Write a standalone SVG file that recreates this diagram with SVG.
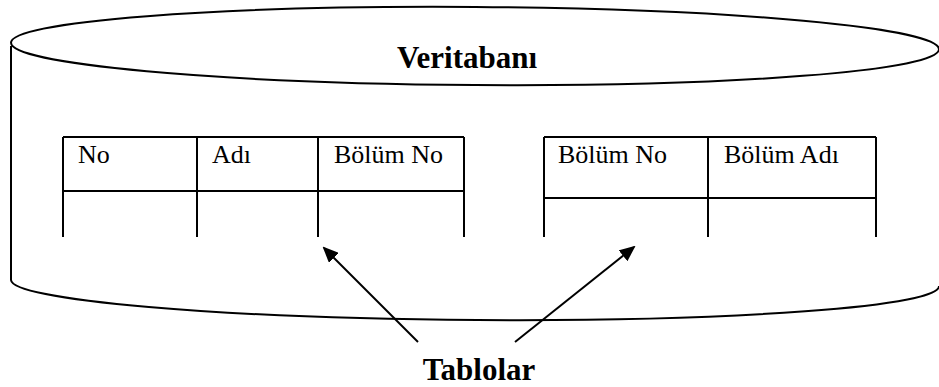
<svg xmlns="http://www.w3.org/2000/svg" width="939" height="387" viewBox="0 0 939 387">
  <style>
    .stroke { fill: none; stroke: #000; stroke-width: 2; }
    .cell { font-family: "Liberation Serif", "Times New Roman", serif; font-size: 26px; fill: #000; }
    .title { font-family: "Liberation Serif", "Times New Roman", serif; font-size: 31px; font-weight: bold; fill: #000; }
  </style>
  <defs>
    <marker id="head" markerWidth="8" markerHeight="7" refX="7" refY="3.5" orient="auto" markerUnits="strokeWidth">
      <path d="M0,0 L8,3.5 L0,7 Z" fill="#000"/>
    </marker>
  </defs>
  <rect width="939" height="387" fill="#fff"/>

  <!-- database cylinder -->
  <g id="database">
    <path class="stroke" d="M11,46 L11,280 A464,37 0.4 0 0 939,286"/>
    <ellipse class="stroke" cx="475" cy="46" rx="464" ry="39" transform="rotate(0.4 475 46)"/>
    <text class="title" x="467" y="68" text-anchor="middle">Veritabanı</text>
  </g>

  <!-- first table -->
  <g id="table-students">
    <path class="stroke" d="M63,137 H464 M63,191 H464 M63,137 V237 M197,137 V237 M318,137 V237 M464,137 V237"/>
    <text class="cell" x="78" y="163">No</text>
    <text class="cell" x="212" y="163">Adı</text>
    <text class="cell" x="334" y="163">Bölüm No</text>
  </g>

  <!-- second table -->
  <g id="table-departments">
    <path class="stroke" d="M544,137 H876 M544,198 H876 M544,137 V237 M708,137 V237 M876,137 V237"/>
    <text class="cell" x="558" y="163">Bölüm No</text>
    <text class="cell" x="724" y="163">Bölüm Adı</text>
  </g>

  <!-- label -->
  <g id="label-tables">
    <text class="title" x="479" y="380" text-anchor="middle">Tablolar</text>
  </g>

  <!-- connectors -->
  <g id="connectors">
    <line class="stroke" x1="418" y1="342" x2="324" y2="248" marker-end="url(#head)"/>
    <line class="stroke" x1="515" y1="342" x2="634" y2="247" marker-end="url(#head)"/>
  </g>
</svg>
